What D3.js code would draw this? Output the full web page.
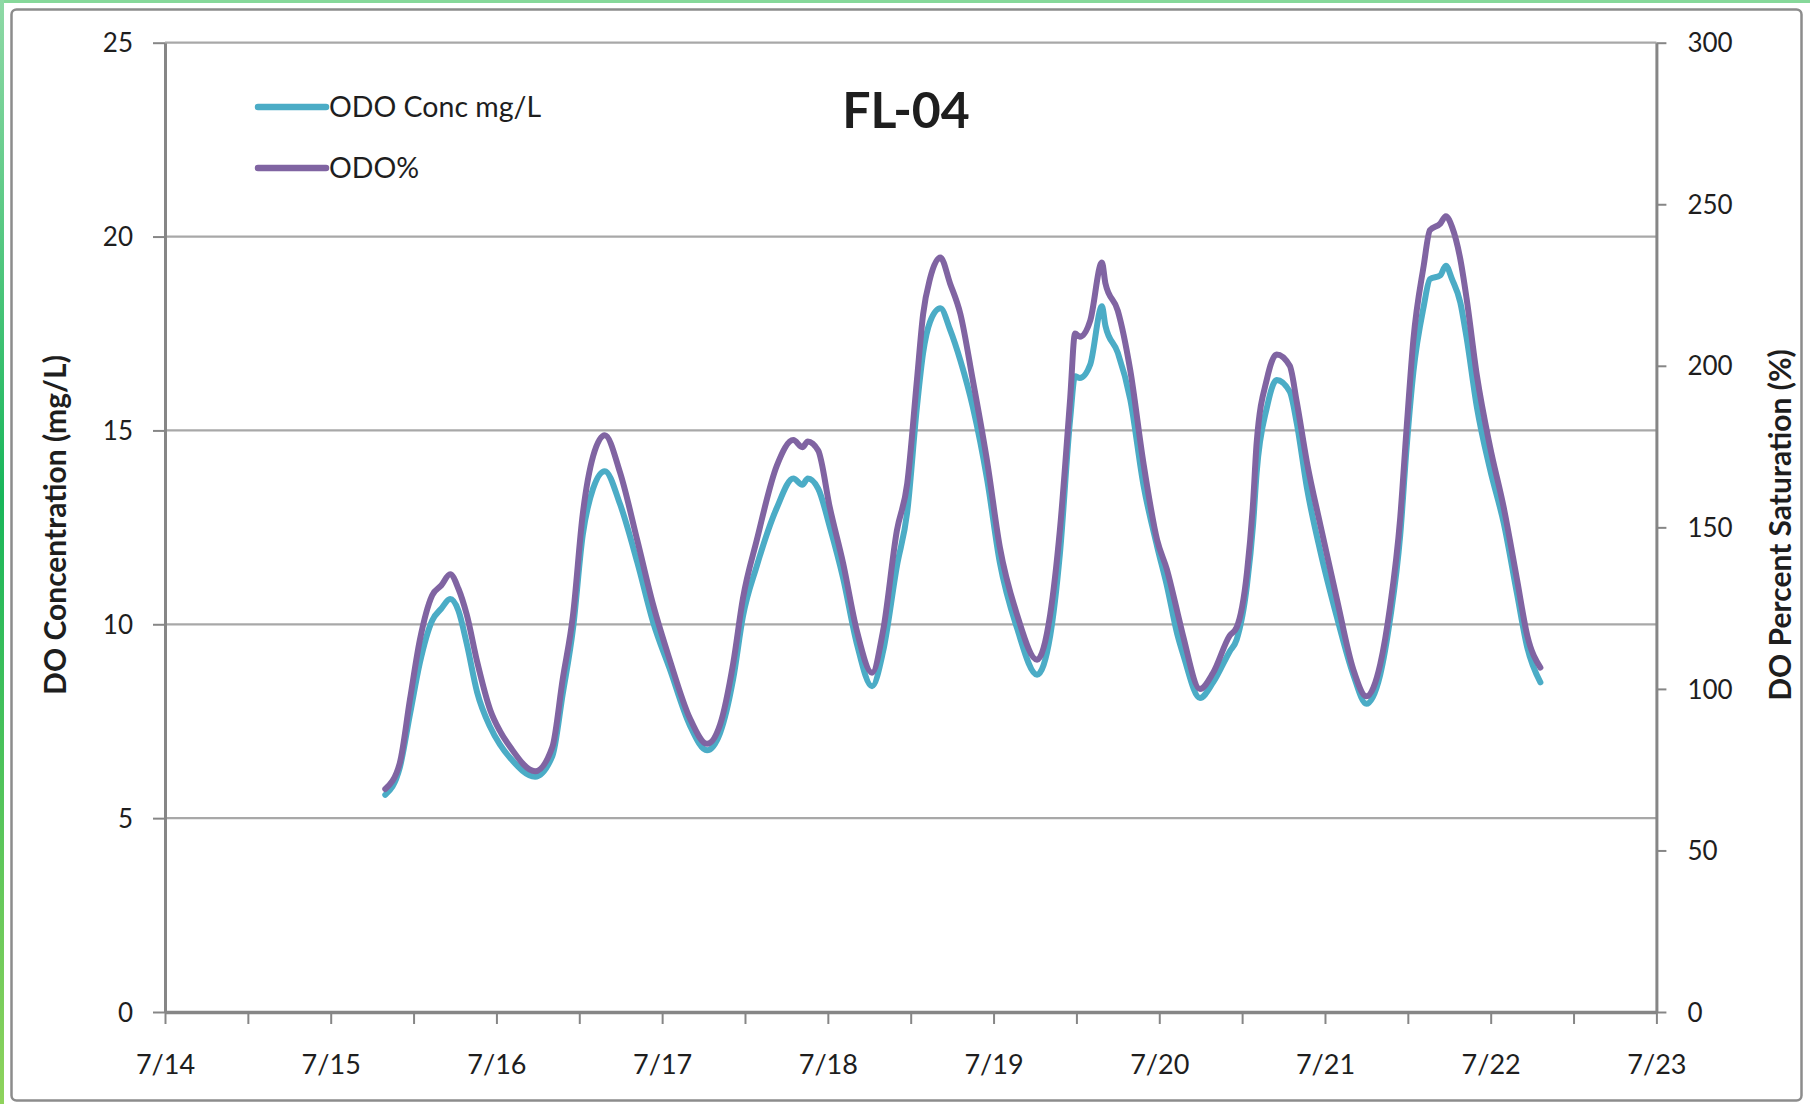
<!DOCTYPE html>
<html>
<head>
<meta charset="utf-8">
<script src="https://cdn.jsdelivr.net/npm/d3@7"></script>
<style>
  html, body { margin: 0; padding: 0; background: #fff; }
  svg { display: block; }
  text { font-family: Lato, "Open Sans", "Noto Sans", sans-serif; fill: #1e1e1e; }
</style>
</head>
<body>
<div id="chart"></div>
<script>
// Day labels for the time axis (one per midnight, 7/14 .. 7/23)
const dayLabels = ["7/14", "7/15", "7/16", "7/17", "7/18", "7/19", "7/20", "7/21", "7/22", "7/23"];

// Sample times, in hours after 7/14 00:00
const hoursFromStart = [
  31.9, 34.0, 35.5, 36.9, 38.7, 40.0, 41.3, 42.5, 43.7, 45.2, 47.1, 48.5, 50.0, 53.6,
  56.1, 57.6, 59.1, 60.5, 62.0, 63.7, 65.9, 68.4, 70.7, 73.1, 76.0, 78.5,
  80.4, 82.3, 83.7, 85.7, 88.6, 91.0, 92.3, 93.1, 94.6, 96.3, 98.2, 100.2, 102.4,
  104.0, 106.0, 107.5, 108.9, 109.8, 110.8, 112.3, 113.7, 115.2, 117.0, 119.1, 120.9, 123.4, 126.3,
  128.2, 129.6, 131.1, 131.8, 132.5, 134.0, 135.7, 136.2, 138.0, 139.8, 141.7, 143.7, 145.1, 146.6, 147.5, 149.9,
  151.8, 154.2, 155.2, 156.7, 157.6, 158.1, 159.6, 161.0, 162.9, 163.9, 165.4, 167.3, 169.7, 172.1, 174.0,
  176.0, 177.4, 178.9, 179.8, 180.8, 182.3, 183.2, 184.7, 185.5, 186.4, 187.6, 188.5, 190.0, 191.9, 193.9, 195.8, 197.3, 199.2
];

// ODO concentration, mg/L (left axis)
const odoConc = [
  5.6, 6.3, 7.7, 9.0, 10.1, 10.4, 10.65, 10.35, 9.5, 8.25, 7.35, 6.9, 6.55, 6.07,
  6.6, 8.2, 9.9, 12.3, 13.5, 13.95, 13.1, 11.6, 10.05, 8.85, 7.4, 6.75,
  7.2, 8.6, 10.2, 11.5, 13.0, 13.76, 13.6, 13.76, 13.5, 12.5, 11.2, 9.5, 8.4,
  9.3, 11.5, 12.9, 15.6, 17.0, 17.8, 18.15, 17.6, 16.8, 15.6, 13.7, 11.6, 9.9, 8.7,
  9.7, 11.8, 15.3, 16.4, 16.35, 16.7, 18.2, 17.7, 17.0, 15.8, 13.6, 12.0, 11.0, 9.75, 9.2, 8.1,
  8.5, 9.3, 9.6, 11.0, 12.6, 13.9, 15.6, 16.3, 16.0, 15.2, 13.5, 11.9, 10.2, 8.7, 7.95,
  8.7, 10.1, 12.3, 14.5, 16.5, 18.2, 18.9, 19.0, 19.25, 18.9, 18.3, 17.4, 15.6, 14.0, 12.6, 10.8, 9.4, 8.5
];

// ODO percent saturation (right axis)
const odoPct = [
  69, 77, 97, 115, 129, 132, 135.5, 131, 123, 108.5, 93.5, 87, 82, 74.5,
  82, 103, 123, 154, 172, 178.5, 167, 146, 126, 109, 91, 83,
  89, 108, 128, 146, 169, 177, 174.8, 176.6, 173.8, 156, 139, 118, 105,
  118, 149, 163.6, 195.5, 216, 227, 233.5, 225.5, 216, 195.5, 170, 144, 123, 109,
  123, 149, 190, 210, 209, 214, 232, 225.5, 217, 198.6, 170, 146, 137, 124, 116, 100,
  105, 116.5, 119, 136, 158, 176, 196, 203.5, 200, 189, 170, 151, 128, 106, 97.7,
  107.6, 125, 153, 180, 208, 231, 242, 244, 246.3, 243, 233, 221, 197, 175, 156, 134, 116.5, 106.6
];

const leftTicks = [0, 5, 10, 15, 20, 25];
const rightTicks = [0, 50, 100, 150, 200, 250, 300];

const W = 1810, H = 1104;
const plot = { left: 165, right: 1656.4, top: 42.7, bottom: 1012 };
const colConc = "#4BACC6", colPct = "#8064A2";
const axisGray = "#868686", gridGray = "#a8a8a8";

const svg = d3.select("#chart").append("svg")
  .attr("width", W).attr("height", H);

// Frame: green window edge and grey rounded chart border
const defs = svg.append("defs");
const g1 = defs.append("linearGradient").attr("id", "edgeLeft").attr("x1", 0).attr("y1", 0).attr("x2", 0).attr("y2", 1);
g1.append("stop").attr("offset", "0%").attr("stop-color", "#8fd9a6");
g1.append("stop").attr("offset", "45%").attr("stop-color", "#19b65a");
g1.append("stop").attr("offset", "100%").attr("stop-color", "#8fd35c");
svg.append("rect").attr("x", 0).attr("y", 0).attr("width", W).attr("height", H).attr("fill", "#fff");
svg.append("rect").attr("x", 0).attr("y", 0).attr("width", W).attr("height", 3).attr("fill", "#86d89a");
svg.append("rect").attr("x", 0).attr("y", 0).attr("width", 4).attr("height", H).attr("fill", "url(#edgeLeft)");
svg.append("rect").attr("x", 11.5).attr("y", 9.5).attr("width", 1790).attr("height", 1091)
  .attr("rx", 5).attr("fill", "#fff").attr("stroke", "#8c8c8c").attr("stroke-width", 2.5);

const x = d3.scaleLinear().domain([0, 216]).range([plot.left, plot.right]);
const yL = d3.scaleLinear().domain([0, 25]).range([plot.bottom, plot.top]);
const yR = d3.scaleLinear().domain([0, 300]).range([plot.bottom, plot.top]);

// Horizontal gridlines on the concentration ticks
svg.append("g").selectAll("line").data(leftTicks.filter(d => d > 0)).join("line")
  .attr("x1", plot.left).attr("x2", plot.right)
  .attr("y1", d => yL(d)).attr("y2", d => yL(d))
  .attr("stroke", gridGray).attr("stroke-width", 2.2);

// Axes
const styleAxis = (g, w) => {
  g.select(".domain").attr("stroke", axisGray).attr("stroke-width", w);
  g.selectAll(".tick line").attr("stroke", axisGray).attr("stroke-width", 2);
};

const xTicks = d3.range(0, 217, 12);
const gx = svg.append("g").attr("transform", `translate(0,${plot.bottom})`)
  .call(d3.axisBottom(x).tickValues(xTicks).tickSize(12).tickSizeOuter(0)
    .tickFormat(h => h % 24 === 0 ? dayLabels[h / 24] : ""));
styleAxis(gx, 3.5);
gx.selectAll(".tick text").attr("font-size", 27).attr("dy", 0).attr("y", 62).attr("fill", "#1e1e1e");

const gl = svg.append("g").attr("transform", `translate(${plot.left},0)`)
  .call(d3.axisLeft(yL).tickValues(leftTicks).tickSize(12).tickSizeOuter(0).tickFormat(d3.format("d")));
styleAxis(gl, 3);
gl.selectAll(".tick text").attr("font-size", 26).attr("x", -32).attr("dy", "0.35em").attr("fill", "#1e1e1e");

const gr = svg.append("g").attr("transform", `translate(${plot.right},0)`)
  .call(d3.axisRight(yR).tickValues(rightTicks).tickSize(10).tickSizeOuter(0).tickFormat(d3.format("d")));
styleAxis(gr, 3);
gr.selectAll(".tick text").attr("font-size", 26).attr("x", 31).attr("dy", "0.35em").attr("fill", "#1e1e1e");

[gx, gl, gr].forEach(g => g.attr("font-family", null));

// Series lines
const idx = d3.range(hoursFromStart.length);
const lineConc = d3.line().x(i => x(hoursFromStart[i])).y(i => yL(odoConc[i])).curve(d3.curveMonotoneX);
const linePct = d3.line().x(i => x(hoursFromStart[i])).y(i => yR(odoPct[i])).curve(d3.curveMonotoneX);

svg.append("path").attr("d", lineConc(idx)).attr("fill", "none")
  .attr("stroke", colConc).attr("stroke-width", 6).attr("stroke-linejoin", "round").attr("stroke-linecap", "round");
svg.append("path").attr("d", linePct(idx)).attr("fill", "none")
  .attr("stroke", colPct).attr("stroke-width", 6).attr("stroke-linejoin", "round").attr("stroke-linecap", "round");

// Title
svg.append("text").attr("x", 906).attr("y", 128).attr("text-anchor", "middle")
  .attr("font-size", 50).attr("font-weight", 700).attr("fill", "#000").text("FL-04");

// Legend
const legend = [
  { label: "ODO Conc mg/L", color: colConc, y: 107 },
  { label: "ODO%", color: colPct, y: 168 }
];
const lg = svg.append("g");
lg.selectAll("line").data(legend).join("line")
  .attr("x1", 258).attr("x2", 326).attr("y1", d => d.y).attr("y2", d => d.y)
  .attr("stroke", d => d.color).attr("stroke-width", 6.5).attr("stroke-linecap", "round");
lg.selectAll("text").data(legend).join("text")
  .attr("x", 329).attr("y", d => d.y).attr("dy", "0.35em")
  .attr("font-size", 28.5).text(d => d.label);

// Axis titles
svg.append("text").attr("transform", "translate(66,525) rotate(-90)")
  .attr("text-anchor", "middle").attr("font-size", 30).attr("font-weight", 700)
  .text("DO Concentration (mg/L)");
svg.append("text").attr("transform", "translate(1791,525) rotate(-90)")
  .attr("text-anchor", "middle").attr("font-size", 30).attr("font-weight", 700)
  .text("DO Percent Saturation (%)");
</script>
</body>
</html>
